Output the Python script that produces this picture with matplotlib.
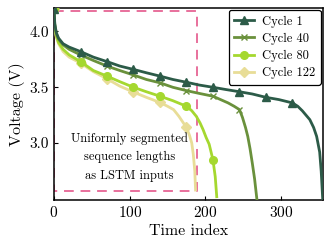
import matplotlib
matplotlib.use("Agg")
import matplotlib.pyplot as plt
import numpy as np

plt.rcParams['font.family'] = 'serif'
plt.rcParams['font.serif'] = ['cmr10']
plt.rcParams['mathtext.fontset'] = 'cm'
plt.rcParams['axes.formatter.use_mathtext'] = True

labels = ["Cycle 1", "Cycle 40", "Cycle 80", "Cycle 122"]
colors = ["#2c5b48", "#6a913c", "#a5d82f", "#e8dd97"]
markers = ["^", "x", "o", "D"]

t1 = [0, 1, 3, 6, 12, 20, 35, 52, 70, 87, 105, 122, 140, 157, 175, 192, 210, 227, 245, 262,
      280, 297, 315, 322, 328, 333, 338, 343, 347, 351, 353, 355]
v1 = [4.20, 4.07, 3.99, 3.94, 3.89, 3.86, 3.82, 3.77, 3.73, 3.69, 3.66, 3.63, 3.60, 3.57, 3.545,
      3.52, 3.50, 3.48, 3.46, 3.44, 3.41, 3.39, 3.36, 3.33, 3.29, 3.25, 3.21, 3.14, 3.06, 2.92,
      2.75, 2.50]

t40 = [0, 1, 3, 6, 12, 20, 35, 52, 70, 87, 105, 122, 140, 157, 175, 192, 210, 220, 230, 238,
       245, 249, 253, 256, 259, 262, 265, 268]
v40 = [4.20, 4.06, 3.98, 3.93, 3.88, 3.84, 3.79, 3.74, 3.69, 3.65, 3.61, 3.57, 3.54, 3.50, 3.47,
       3.445, 3.42, 3.39, 3.36, 3.33, 3.30, 3.23, 3.14, 3.06, 2.95, 2.82, 2.68, 2.50]

t80 = [0, 1, 3, 6, 12, 20, 35, 52, 70, 87, 105, 122, 140, 157, 175, 182, 188, 193, 197, 201,
       205, 210, 213, 215]
v80 = [4.20, 4.04, 3.96, 3.90, 3.84, 3.79, 3.73, 3.65, 3.60, 3.55, 3.50, 3.46, 3.42, 3.38, 3.33,
       3.29, 3.24, 3.18, 3.12, 3.05, 2.99, 2.85, 2.70, 2.52]

t122 = [0, 1, 3, 6, 12, 20, 35, 52, 70, 87, 105, 122, 140, 150, 158, 165, 170, 175, 179, 182,
        184, 186, 187]
v122 = [4.20, 4.03, 3.95, 3.89, 3.82, 3.77, 3.717, 3.64, 3.576, 3.51, 3.457, 3.41, 3.364, 3.33,
        3.30, 3.24, 3.19, 3.14, 3.07, 3.00, 2.90, 2.75, 2.58]

marker_step = 35
segment_end = 189
segment_low, segment_high = 2.575, 4.185
note = "Uniformly segmented\nsequence lengths\nas LSTM inputs"

fig = plt.figure(figsize=(3.32, 2.47), dpi=100)
ax = fig.add_axes([0.1627, 0.190, 0.8093, 0.7776])

data = [(t1, v1), (t40, v40), (t80, v80), (t122, v122)]
handles = []
for i in [3, 2, 1, 0]:
    t, v = data[i]
    idx = [k for k, tt in enumerate(t) if tt % marker_step == 0]
    ms = {"^": 5.5, "x": 5, "o": 5.5, "D": 5}[markers[i]]
    ln, = ax.plot(t, v, color=colors[i], lw=2, marker=markers[i], markevery=idx, ms=ms,
                  mew=1, label=labels[i], zorder=3 + (3 - i))
    handles.append(ln)
handles = handles[::-1]

ax.plot([0, segment_end, segment_end, 0, 0],
        [segment_high, segment_high, segment_low, segment_low, segment_high],
        ls=(0, (5, 3.5)), color="#e8709c", lw=1.4, zorder=2)

ax.text(100, 2.875, note, ha="center", va="center", fontsize=9, linespacing=1.7)

ax.set_xlim(0, 355)
ax.set_ylim(2.49, 4.21)
ax.set_xticks([0, 100, 200, 300])
ax.set_yticks([3.0, 3.5, 4.0])
ax.set_yticklabels(["3.0", "3.5", "4.0"])
ax.tick_params(direction="in", labelsize=11, length=3, width=0.8)
ax.set_xlabel("Time index", fontsize=11.5, labelpad=3)
ax.set_ylabel("Voltage (V)", fontsize=11.5, labelpad=3)
for s in ax.spines.values():
    s.set_linewidth(1.1)

leg = ax.legend(handles, labels, loc="upper right", fontsize=9,
                frameon=True, framealpha=1, edgecolor="black", fancybox=True,
                borderaxespad=0.15, handlelength=1.6, labelspacing=0.4, borderpad=0.45,
                handletextpad=0.6)
leg.get_frame().set_linewidth(0.9)

fig.savefig("out.png", dpi=100)
